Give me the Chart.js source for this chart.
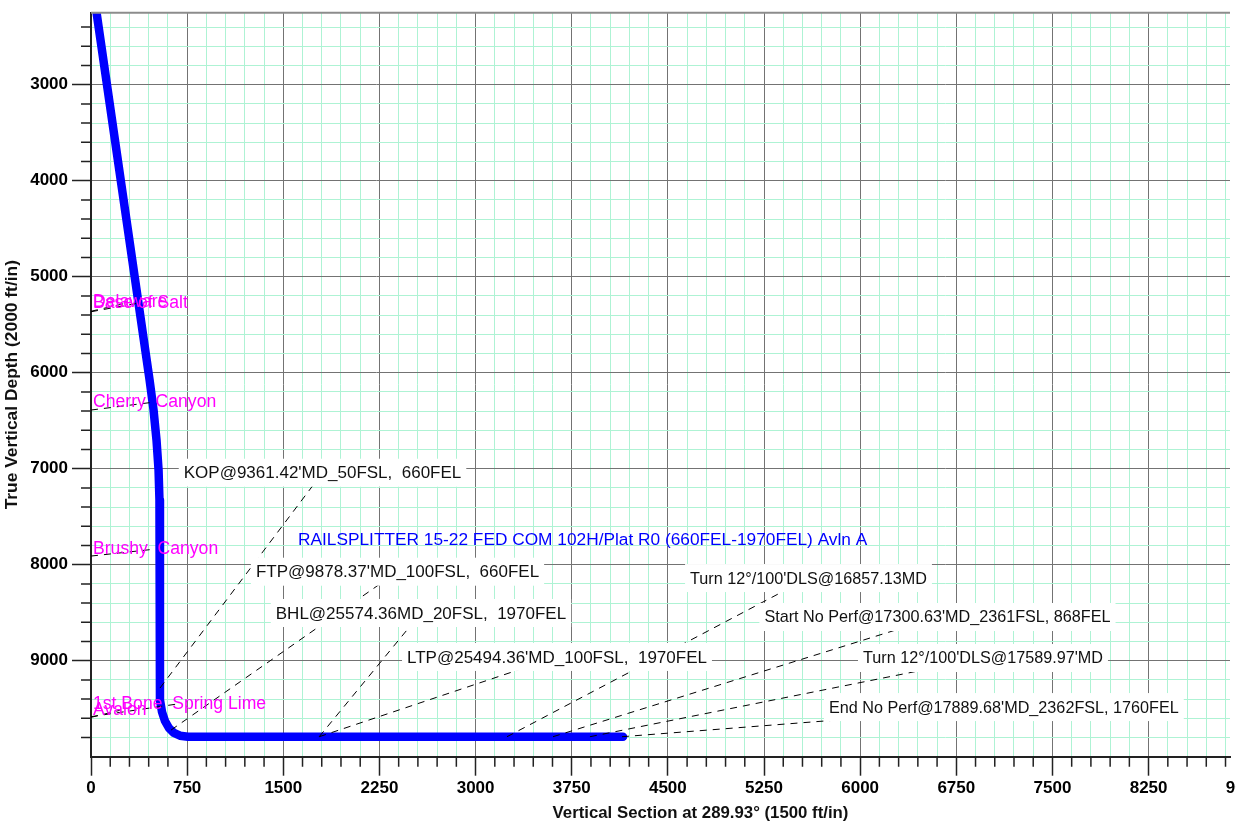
<!DOCTYPE html>
<html>
<head>
<meta charset="utf-8">
<title>Vertical Section</title>
<script src="https://cdn.jsdelivr.net/npm/chart.js@4.4.1/dist/chart.umd.min.js"></script>
<style>
    html, body { margin: 0; padding: 0; background: #fff; overflow: hidden; }
    #wrap { width: 1236px; height: 825px; position: relative; }
</style>
</head>
<body>
<div id="wrap"><canvas id="sectionChart"></canvas></div>
<script>
// well path: vertical section (ft) and true vertical depth (ft)
const wellVS  = [45, 457, 488, 511, 527, 534, 538, 538, 554, 577, 608, 647, 694, 757, 4150];
const wellTVD = [2265, 6076, 6389, 6701, 7014, 7326, 7743, 9409, 9534, 9628, 9701, 9753, 9781, 9792, 9792];

// axes
const xTickLabels = ["0", "750", "1500", "2250", "3000", "3750", "4500", "5250", "6000", "6750", "7500", "8250", "9000"];
const yTickLabels = ["3000", "4000", "5000", "6000", "7000", "8000", "9000"];
const xMinorStep = 150;
const yMinorStep = 200;
const xMin = 0, xMax = 8885;
const yMin = 2250, yMax = 10000;

// formation tops
const formationNames = ["Delaware", "Base of Salt", "Cherry  Canyon", "Brushy  Canyon", "1st Bone  Spring Lime", "Avalon"];
const formationTVD = [5360, 5365, 6389, 7910, 9583, 9590];

// callouts: point on the well path and where its label sits
const calloutText = [
    "KOP@9361.42'MD_50FSL,  660FEL",
    "FTP@9878.37'MD_100FSL,  660FEL",
    "BHL@25574.36MD_20FSL,  1970FEL",
    "LTP@25494.36'MD_100FSL,  1970FEL",
    "Turn 12°/100'DLS@16857.13MD",
    "Start No Perf@17300.63'MD_2361FSL, 868FEL",
    "Turn 12°/100'DLS@17589.97'MD",
    "End No Perf@17889.68'MD_2362FSL, 1760FEL"
];
const calloutVS  = [538, 625, 1780, 1780, 3245, 3604, 3892, 4142];
const calloutTVD = [9285, 9722, 9792, 9792, 9792, 9792, 9792, 9792];
const calloutLabelVS  = [1806, 2391, 2574, 3635, 5597, 6603, 6958, 7121];
const calloutLabelTVD = [7042, 8073, 8503, 8961, 8139, 8545, 8972, 9483];

const wellName = "RAILSPLITTER 15-22 FED COM 102H/Plat R0 (660FEL-1970FEL) Avln A";
const wellNameVS = 1615, wellNameTVD = 7745;

const xTitle = "Vertical Section at 289.93° (1500 ft/in)";
const yTitle = "True Vertical Depth (2000 ft/in)";

const FONT = "'Liberation Sans', Arial, sans-serif";
const majorGrid = "#737373";
const minorGrid = "#aef3d4";
const formationLift = [9, 9, 8, 7, 13, 7];
const calloutFontSize = [17, 17, 17, 17, 16.2, 16.2, 16.2, 16.2];

const xMajors = xTickLabels.map(Number);
const yMajors = yTickLabels.map(Number);

const xTickValues = [];
for (let v = xMin; v <= 9000; v += xMinorStep) {
    if (v <= xMax || xMajors.includes(v)) xTickValues.push(v);
}
const yTickValues = [];
for (let v = 2400; v < yMax; v += yMinorStep) yTickValues.push(v);

const annotations = {
    id: "annotations",
    afterDatasetsDraw(chart) {
        const {ctx, chartArea, scales: {x, y}} = chart;
        ctx.save();

        // top frame line
        ctx.strokeStyle = "#8c8c8c";
        ctx.lineWidth = 2;
        ctx.beginPath();
        ctx.moveTo(chartArea.left, y.getPixelForValue(yMin));
        ctx.lineTo(chartArea.right, y.getPixelForValue(yMin));
        ctx.stroke();

        // minor tick marks
        ctx.strokeStyle = "#222";
        ctx.lineWidth = 1.5;
        ctx.beginPath();
        xTickValues.filter(v => !xMajors.includes(v)).forEach(v => {
            const px = x.getPixelForValue(v);
            ctx.moveTo(px, chartArea.bottom);
            ctx.lineTo(px, chartArea.bottom + 10);
        });
        yTickValues.filter(v => !yMajors.includes(v)).forEach(v => {
            const py = y.getPixelForValue(v);
            ctx.moveTo(chartArea.left - 10, py);
            ctx.lineTo(chartArea.left, py);
        });
        ctx.stroke();

        // formation tops
        ctx.font = "17.6px " + FONT;
        ctx.textBaseline = "middle";
        ctx.textAlign = "left";
        const formationPos = formationNames.map((name, i) => {
            const left = x.getPixelForValue(0) + 2;
            const w = ctx.measureText(name).width;
            return {left, cx: left + w / 2, cy: y.getPixelForValue(formationTVD[i]) - formationLift[i]};
        });

        ctx.strokeStyle = "#000";
        ctx.lineWidth = 1;
        ctx.setLineDash([7, 6]);
        formationNames.forEach((name, i) => {
            ctx.beginPath();
            ctx.moveTo(x.getPixelForValue(0), y.getPixelForValue(formationTVD[i]));
            ctx.lineTo(formationPos[i].cx, formationPos[i].cy);
            ctx.stroke();
        });
        calloutText.forEach((t, i) => {
            ctx.beginPath();
            ctx.moveTo(x.getPixelForValue(calloutVS[i]), y.getPixelForValue(calloutTVD[i]));
            ctx.lineTo(x.getPixelForValue(calloutLabelVS[i]), y.getPixelForValue(calloutLabelTVD[i]));
            ctx.stroke();
        });
        ctx.setLineDash([]);

        ctx.fillStyle = "#ff00ff";
        formationNames.forEach((name, i) => {
            ctx.fillText(name, formationPos[i].left, formationPos[i].cy);
        });

        // callout labels on white boxes
        ctx.textAlign = "center";
        calloutText.forEach((t, i) => {
            ctx.font = calloutFontSize[i] + "px " + FONT;
            const cx = x.getPixelForValue(calloutLabelVS[i]);
            const cy = y.getPixelForValue(calloutLabelTVD[i]);
            const w = ctx.measureText(t).width;
            ctx.fillStyle = "#fff";
            ctx.fillRect(cx - w / 2 - 5, cy - 14, w + 10, 28);
            ctx.fillStyle = "#111";
            ctx.fillText(t, cx, cy + 1);
        });

        ctx.font = "17.3px " + FONT;
        ctx.fillStyle = "#0000ff";
        ctx.textAlign = "left";
        ctx.fillText(wellName, x.getPixelForValue(wellNameVS), y.getPixelForValue(wellNameTVD));

        // axis titles
        ctx.fillStyle = "#111";
        ctx.textAlign = "center";
        ctx.font = "bold 16.8px " + FONT;
        ctx.fillText(xTitle, (chartArea.left + chartArea.right) / 2 + 40, 813);
        ctx.font = "bold 17.4px " + FONT;
        ctx.translate(12, (chartArea.top + chartArea.bottom) / 2);
        ctx.rotate(-Math.PI / 2);
        ctx.fillText(yTitle, 0, 0);

        ctx.restore();
    }
};

new Chart(document.getElementById("sectionChart"), {
    type: "scatter",
    data: {
        datasets: [{
            data: wellVS.map((v, i) => ({x: v, y: wellTVD[i]})),
            showLine: true,
            borderColor: "#0000ff",
            borderWidth: 8.5,
            borderCapStyle: "round",
            borderJoinStyle: "round",
            pointRadius: 0,
            tension: 0
        }]
    },
    options: {
        responsive: true,
        maintainAspectRatio: false,
        animation: false,
        layout: {padding: {top: 12.7, right: 6, left: 0, bottom: 0}},
        plugins: {
            legend: {display: false},
            tooltip: {enabled: false}
        },
        scales: {
            x: {
                type: "linear",
                min: xMin,
                max: xMax,
                afterBuildTicks: scale => { scale.ticks = xTickValues.map(v => ({value: v})); },
                afterFit: scale => {
                    scale.height = 68.3;
                    scale.paddingLeft = 0;
                    scale.paddingRight = 0;
                },
                ticks: {
                    autoSkip: false,
                    maxRotation: 0,
                    minRotation: 0,
                    padding: 2,
                    color: "#000",
                    font: {family: FONT, size: 17, weight: "bold"},
                    callback: v => xMajors.includes(v) ? String(v) : ""
                },
                grid: {
                    color: c => xMajors.includes(c.tick.value) ? majorGrid : minorGrid,
                    lineWidth: 1,
                    tickLength: 19,
                    tickWidth: 1.5,
                    tickColor: c => xMajors.includes(c.tick.value) ? "#222" : "rgba(0,0,0,0)"
                },
                border: {display: true, color: "#222", width: 2}
            },
            y: {
                type: "linear",
                reverse: true,
                min: yMin,
                max: yMax,
                afterBuildTicks: scale => { scale.ticks = yTickValues.map(v => ({value: v})); },
                afterFit: scale => {
                    scale.width = 91;
                    scale.paddingTop = 0;
                    scale.paddingBottom = 0;
                },
                ticks: {
                    autoSkip: false,
                    padding: 4,
                    color: "#000",
                    font: {family: FONT, size: 17, weight: "bold"},
                    callback: v => yMajors.includes(v) ? String(v) : ""
                },
                grid: {
                    color: c => yMajors.includes(c.tick.value) ? majorGrid : minorGrid,
                    lineWidth: 1,
                    tickLength: 19,
                    tickWidth: 1.5,
                    tickColor: c => yMajors.includes(c.tick.value) ? "#222" : "rgba(0,0,0,0)"
                },
                border: {display: true, color: "#222", width: 2}
            }
        }
    },
    plugins: [annotations]
});
</script>
</body>
</html>
